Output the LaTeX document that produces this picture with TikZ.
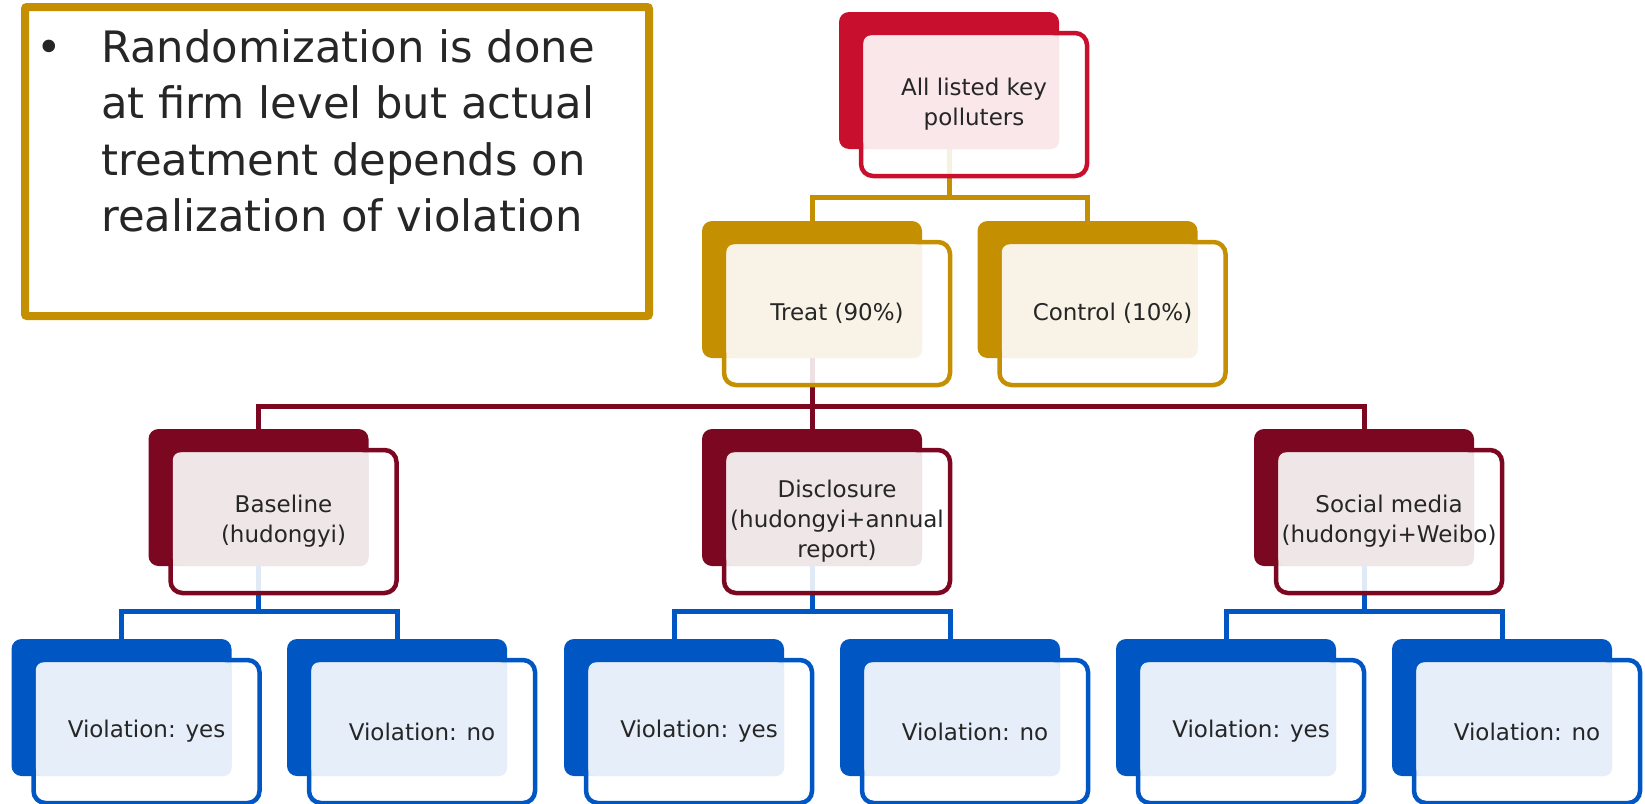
\documentclass[tikz,border=0pt]{standalone}
\usepackage{fontspec}
\setmainfont{DejaVu Sans}
\usetikzlibrary{calc}
\definecolor{ink}{HTML}{262626}
\definecolor{crim}{HTML}{C8102E}
\definecolor{crimT}{HTML}{F9E7EA}
\definecolor{gold}{HTML}{C48F00}
\definecolor{goldT}{HTML}{F8F3E6}
\definecolor{wine}{HTML}{7B0820}
\definecolor{wineT}{HTML}{EFE6E8}
\definecolor{blu}{HTML}{0057C4}
\definecolor{bluT}{HTML}{E6EEF9}
\tikzset{
  backbox/.style={rectangle, rounded corners=10pt, minimum width=220pt, minimum height=137pt, inner sep=0pt, outer sep=0pt, anchor=north},
  frontbox/.style={rectangle, rounded corners=12pt, minimum width=226pt, minimum height=143pt, inner sep=0pt, outer sep=0pt, line width=4.5pt, fill=white, fill opacity=0.88},
  boxtext/.style={text=ink, align=center, font=\fontsize{23}{30}\selectfont, inner sep=0pt},
  conn/.style={line width=5pt},
  bigtext/.style={text=ink, font=\fontsize{43.3}{56}\selectfont, inner sep=0pt, anchor=base west}
}
\newcommand\frontpart[4]{% #1 name, #2 colour, #3 tint, #4 text
  \node[frontbox, draw=#2] (#1f) at ($(#1.center)+(25,24)$) {};
  \fill[#3, rounded corners=8pt] ($(#1f.north west)+(2.25,2.25)$) rectangle (#1.south east);
  \node[boxtext] (#1t) at (#1f.center) {#4};
}
\begin{document}
\begin{tikzpicture}[x=1pt, y=-1pt]
\useasboundingbox (0,0) rectangle (1645,803);
% note box
\node[draw=gold, line width=8pt, rounded corners=2pt, minimum width=624pt, minimum height=309pt, inner sep=0pt, outer sep=0pt, anchor=north west] (note) at (25,7) {};
\node[bigtext, anchor=base] (bul) at (49,62) {•};
\node[bigtext] (l1) at (101,62) {Randomization is done};
\node[bigtext] (l2) at (101,118.5) {at firm level but actual};
\node[bigtext] (l3) at (101,175) {treatment depends on};
\node[bigtext] (l4) at (101,231.5) {realization of violation};
% back boxes
\node[backbox, fill=crim] (top) at (949,12) {};
\node[backbox, fill=gold] (treat) at (812,221) {};
\node[backbox, fill=gold] (ctrl) at (1087.5,221) {};
\node[backbox, fill=wine] (base) at (258.5,429) {};
\node[backbox, fill=wine] (disc) at (812,429) {};
\node[backbox, fill=wine] (soc) at (1364,429) {};
\node[backbox, fill=blu] (v1) at (121.5,639) {};
\node[backbox, fill=blu] (v2) at (397,639) {};
\node[backbox, fill=blu] (v3) at (674,639) {};
\node[backbox, fill=blu] (v4) at (950,639) {};
\node[backbox, fill=blu] (v5) at (1226,639) {};
\node[backbox, fill=blu] (v6) at (1502,639) {};
% connectors
\draw[conn, gold] (top.south) -- ++(0,48) coordinate (j1);
\draw[conn, gold] (j1) -| (treat.north);
\draw[conn, gold] (j1) -| (ctrl.north);
\draw[conn, wine] (treat.south) -- ++(0,48) coordinate (j2);
\draw[conn, wine] (j2) -| (base.north);
\draw[conn, wine] (j2) -- (disc.north);
\draw[conn, wine] (j2) -| (soc.north);
\draw[conn, blu] (base.south) -- ++(0,45) coordinate (j3);
\draw[conn, blu] (j3) -| (v1.north);
\draw[conn, blu] (j3) -| (v2.north);
\draw[conn, blu] (disc.south) -- ++(0,45) coordinate (j4);
\draw[conn, blu] (j4) -| (v3.north);
\draw[conn, blu] (j4) -| (v4.north);
\draw[conn, blu] (soc.south) -- ++(0,45) coordinate (j5);
\draw[conn, blu] (j5) -| (v5.north);
\draw[conn, blu] (j5) -| (v6.north);
% front boxes, tints and texts
\frontpart{top}{crim}{crimT}{All listed key\\polluters}
\frontpart{treat}{gold}{goldT}{Treat (90\%)}
\frontpart{ctrl}{gold}{goldT}{Control (10\%)}
\frontpart{base}{wine}{wineT}{Baseline\\(hudongyi)}
\frontpart{disc}{wine}{wineT}{Disclosure\\(hudongyi+annual\\report)}
\frontpart{soc}{wine}{wineT}{Social media\\(hudongyi+Weibo)}
\frontpart{v1}{blu}{bluT}{Violation: yes}
\frontpart{v2}{blu}{bluT}{Violation: no}
\frontpart{v3}{blu}{bluT}{Violation: yes}
\frontpart{v4}{blu}{bluT}{Violation: no}
\frontpart{v5}{blu}{bluT}{Violation: yes}
\frontpart{v6}{blu}{bluT}{Violation: no}
\end{tikzpicture}
\end{document}
